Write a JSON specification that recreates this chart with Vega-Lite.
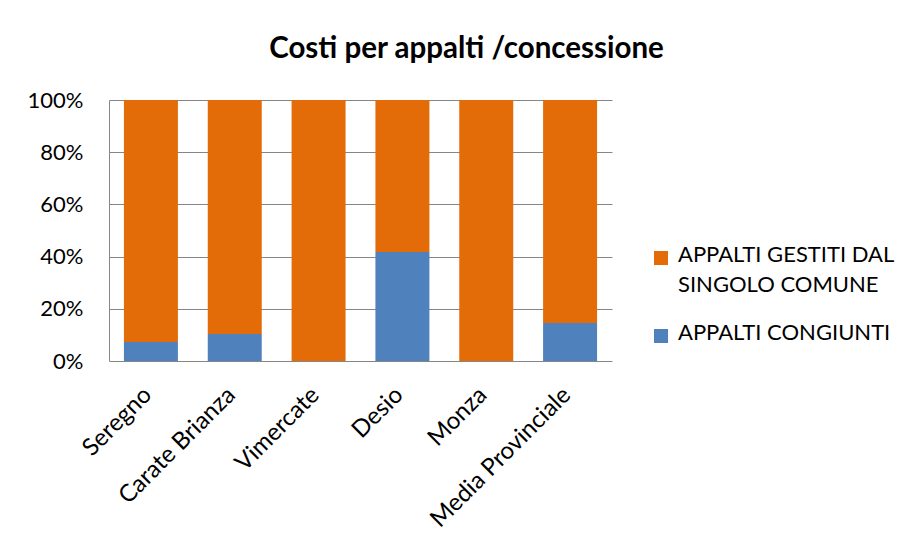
{
  "$schema": "https://vega.github.io/schema/vega-lite/v6.json",
  "width": 503,
  "height": 261,
  "autosize": "none",
  "padding": {"left": 109, "top": 100, "right": 304, "bottom": 190},
  "background": "white",
  "title": {"text": "Costi per appalti  /concessione", "fontSize": 29.5, "font": "Lato", "fontWeight": "bold", "color": "#000000", "anchor": "middle", "dx": 106, "offset": 25},
  "data": {"values": [
    {"comune": "Seregno", "serie": "APPALTI CONGIUNTI", "valore": 7.3},
    {"comune": "Seregno", "serie": "APPALTI GESTITI DAL SINGOLO COMUNE", "valore": 92.7},
    {"comune": "Carate Brianza", "serie": "APPALTI CONGIUNTI", "valore": 10.3},
    {"comune": "Carate Brianza", "serie": "APPALTI GESTITI DAL SINGOLO COMUNE", "valore": 89.7},
    {"comune": "Vimercate", "serie": "APPALTI CONGIUNTI", "valore": 0},
    {"comune": "Vimercate", "serie": "APPALTI GESTITI DAL SINGOLO COMUNE", "valore": 100},
    {"comune": "Desio", "serie": "APPALTI CONGIUNTI", "valore": 41.8},
    {"comune": "Desio", "serie": "APPALTI GESTITI DAL SINGOLO COMUNE", "valore": 58.2},
    {"comune": "Monza", "serie": "APPALTI CONGIUNTI", "valore": 0},
    {"comune": "Monza", "serie": "APPALTI GESTITI DAL SINGOLO COMUNE", "valore": 100},
    {"comune": "Media Provinciale", "serie": "APPALTI CONGIUNTI", "valore": 14.6},
    {"comune": "Media Provinciale", "serie": "APPALTI GESTITI DAL SINGOLO COMUNE", "valore": 85.4}
  ]},
  "mark": {"type": "bar"},
  "encoding": {
    "x": {"field": "comune", "type": "nominal", "sort": null,
      "scale": {"paddingInner": 0.356, "paddingOuter": 0.178},
      "axis": {"title": null, "labelAngle": -45, "labelAlign": "right", "labelBaseline": "middle", "labelFontSize": 24, "labelFont": "Lato", "labelLimit": 400, "ticks": false, "domain": false, "labelPadding": 30, "labelOffset": -3, "labelColor": "#000000"}},
    "y": {"field": "valore", "type": "quantitative", "stack": "normalize",
      "scale": {"domain": [0, 1]},
      "axis": {"title": null, "format": ".0%", "values": [0, 0.2, 0.4, 0.6, 0.8, 1], "ticks": false, "labelPadding": 26, "labelFontSize": 22, "labelFont": "Lato", "labelColor": "#000000", "gridColor": "#868686", "gridWidth": 1, "domainColor": "#868686", "domainWidth": 1}},
    "color": {"field": "serie", "type": "nominal",
      "scale": {"domain": ["APPALTI GESTITI DAL SINGOLO COMUNE", "APPALTI CONGIUNTI"], "range": ["#E36C09", "#4F81BD"]},
      "legend": {"orient": "none", "legendX": 541, "legendY": 147, "title": null, "symbolType": "square", "symbolSize": 196, "symbolStrokeWidth": 0, "labelFontSize": 22, "labelFont": "Lato", "labelColor": "#000000", "labelLimit": 400, "labelOffset": 6, "rowPadding": 26, "labelBaseline": "top",
        "labelExpr": "datum.label == 'APPALTI GESTITI DAL SINGOLO COMUNE' ? ['APPALTI GESTITI DAL', 'SINGOLO COMUNE'] : datum.label",
        "encode": {"labels": {"update": {"lineHeight": {"value": 30}, "dy": {"value": -13}}}}}},
    "order": {"field": "serie", "sort": "ascending"}
  },
  "config": {"view": {"stroke": null}}
}
